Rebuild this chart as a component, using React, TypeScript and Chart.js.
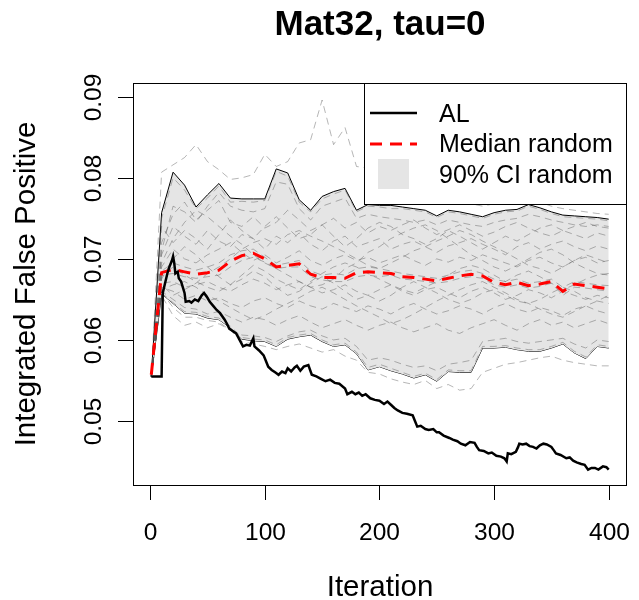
import React, { useEffect, useRef } from "react";
import { Chart, registerables } from "chart.js";

Chart.register(...registerables);

const TITLE = "Mat32, tau=0";
const X_LABEL = "Iteration";
const Y_LABEL = "Integrated False Positive";
const X_TICKS = [0, 100, 200, 300, 400];
const Y_TICKS = [0.05, 0.06, 0.07, 0.08, 0.09];
const Y_TICK_LABELS = ["0.05", "0.06", "0.07", "0.08", "0.09"];
const LEGEND_LABELS = ["AL", "Median random", "90% CI random"];

// Iterations at which the random runs / band / median are recorded
const GRID_ITER = [1, 10, 20, 30, 40, 50, 60, 70, 80, 90, 100, 110, 120, 130, 140, 150, 160, 170, 180, 190, 200, 210, 220, 230, 240, 250, 260, 270, 280, 290, 300, 310, 320, 330, 340, 350, 360, 370, 380, 390, 400];

const CI_UPPER = [0.0555, 0.0757, 0.0807, 0.0791, 0.0764, 0.0779, 0.0793, 0.0775, 0.0774, 0.0774, 0.0774, 0.0811, 0.0806, 0.0773, 0.0760, 0.0777, 0.0783, 0.0787, 0.0760, 0.0767, 0.0766, 0.0766, 0.0764, 0.0762, 0.0760, 0.0753, 0.0760, 0.0758, 0.0755, 0.0752, 0.0757, 0.0760, 0.0761, 0.0767, 0.0763, 0.0758, 0.0754, 0.0753, 0.0752, 0.0751, 0.0749];

const CI_LOWER = [0.0555, 0.0657, 0.0645, 0.0633, 0.0632, 0.0627, 0.0625, 0.0615, 0.0601, 0.0599, 0.0598, 0.0592, 0.0601, 0.0604, 0.0606, 0.0598, 0.0592, 0.0594, 0.0583, 0.0563, 0.0567, 0.0562, 0.0558, 0.0553, 0.0557, 0.0549, 0.0561, 0.0560, 0.0560, 0.0590, 0.0590, 0.0591, 0.0588, 0.0586, 0.0586, 0.0590, 0.0595, 0.0584, 0.0577, 0.0592, 0.0590];

const MEDIAN = [0.0557, 0.0683, 0.0687, 0.0684, 0.0681, 0.0683, 0.0686, 0.0697, 0.0704, 0.0707, 0.0700, 0.0690, 0.0692, 0.0694, 0.0681, 0.0677, 0.0677, 0.0676, 0.0683, 0.0684, 0.0683, 0.0682, 0.0678, 0.0677, 0.0675, 0.0673, 0.0676, 0.0679, 0.0681, 0.0679, 0.0671, 0.0668, 0.0671, 0.0667, 0.0669, 0.0672, 0.0660, 0.0669, 0.0667, 0.0665, 0.0663];

const AL_ITER = [1, 10, 11, 13, 15, 17, 19, 20, 21, 22, 24, 25, 27, 30, 31, 34, 36, 39, 42, 45, 47, 50, 52, 55, 58, 61, 65, 67, 69, 72, 75, 78, 81, 84, 87, 90, 91, 95, 99, 101, 103, 106, 109, 112, 115, 118, 120, 123, 126, 128, 131, 134, 138, 141, 145, 149, 153, 157, 161, 165, 170, 172, 176, 179, 182, 185, 188, 192, 196, 200, 204, 207, 210, 213, 216, 220, 224, 229, 231, 233, 236, 240, 243, 247, 250, 252, 256, 261, 264, 268, 271, 275, 279, 283, 285, 287, 291, 295, 298, 302, 306, 309, 311, 312, 315, 319, 321, 322, 325, 328, 331, 334, 337, 340, 343, 346, 350, 352, 354, 358, 363, 366, 369, 372, 376, 379, 382, 385, 388, 391, 395, 398, 400];

const AL_VALUE = [0.0555, 0.0555, 0.0658, 0.0670, 0.0682, 0.0691, 0.0698, 0.0703, 0.0695, 0.0682, 0.0684, 0.0676, 0.0672, 0.0658, 0.0647, 0.0648, 0.0646, 0.0650, 0.0648, 0.0655, 0.0658, 0.0652, 0.0647, 0.0642, 0.0637, 0.0633, 0.0625, 0.0620, 0.0614, 0.0611, 0.0608, 0.0600, 0.0592, 0.0594, 0.0593, 0.0602, 0.0592, 0.0587, 0.0581, 0.0574, 0.0567, 0.0563, 0.0560, 0.0557, 0.0561, 0.0559, 0.0565, 0.0561, 0.0566, 0.0568, 0.0562, 0.0567, 0.0569, 0.0557, 0.0555, 0.0552, 0.0549, 0.0551, 0.0547, 0.0546, 0.0540, 0.0533, 0.0536, 0.0533, 0.0535, 0.0531, 0.0533, 0.0528, 0.0526, 0.0525, 0.0521, 0.0524, 0.0520, 0.0516, 0.0513, 0.0510, 0.0509, 0.0507, 0.0500, 0.0493, 0.0494, 0.0490, 0.0489, 0.0490, 0.0486, 0.0486, 0.0482, 0.0479, 0.0477, 0.0475, 0.0472, 0.0470, 0.0474, 0.0473, 0.0468, 0.0464, 0.0463, 0.0460, 0.0461, 0.0457, 0.0456, 0.0454, 0.0450, 0.0460, 0.0459, 0.0462, 0.0468, 0.0472, 0.0471, 0.0472, 0.0469, 0.0468, 0.0466, 0.0470, 0.0472, 0.0471, 0.0468, 0.0464, 0.0460, 0.0458, 0.0454, 0.0455, 0.0451, 0.0449, 0.0447, 0.0446, 0.0440, 0.0442, 0.0442, 0.0440, 0.0444, 0.0443, 0.0440];

// Individual random runs (grey dashed)
const RUN_01 = [0.0555, 0.0807, 0.0816, 0.0825, 0.0841, 0.0820, 0.0810, 0.0798, 0.0800, 0.0804, 0.0829, 0.0814, 0.0820, 0.0843, 0.0847, 0.0896, 0.0841, 0.0862, 0.0814, 0.0812, 0.0805, 0.0800, 0.0790, 0.0785, 0.0780, 0.0775, 0.0770, 0.0772, 0.0768, 0.0765, 0.0768, 0.0770, 0.0772, 0.0775, 0.0770, 0.0765, 0.0762, 0.0760, 0.0758, 0.0756, 0.0755];
const RUN_02 = [0.0555, 0.0750, 0.0800, 0.0785, 0.0762, 0.0775, 0.0790, 0.0770, 0.0771, 0.0770, 0.0772, 0.0808, 0.0802, 0.0770, 0.0758, 0.0774, 0.0780, 0.0785, 0.0758, 0.0765, 0.0764, 0.0762, 0.0762, 0.0760, 0.0758, 0.0751, 0.0758, 0.0756, 0.0753, 0.0750, 0.0755, 0.0758, 0.0759, 0.0765, 0.0761, 0.0756, 0.0752, 0.0751, 0.0750, 0.0749, 0.0747];
const RUN_03 = [0.0555, 0.0720, 0.0755, 0.0770, 0.0748, 0.0760, 0.0772, 0.0745, 0.0740, 0.0752, 0.0738, 0.0745, 0.0760, 0.0748, 0.0735, 0.0742, 0.0750, 0.0738, 0.0745, 0.0732, 0.0740, 0.0735, 0.0742, 0.0748, 0.0738, 0.0730, 0.0736, 0.0742, 0.0735, 0.0728, 0.0733, 0.0740, 0.0745, 0.0738, 0.0732, 0.0728, 0.0735, 0.0730, 0.0725, 0.0732, 0.0728];
const RUN_04 = [0.0555, 0.0705, 0.0740, 0.0728, 0.0718, 0.0735, 0.0722, 0.0715, 0.0730, 0.0725, 0.0712, 0.0728, 0.0720, 0.0732, 0.0718, 0.0710, 0.0722, 0.0728, 0.0715, 0.0720, 0.0725, 0.0712, 0.0718, 0.0722, 0.0715, 0.0708, 0.0716, 0.0720, 0.0725, 0.0718, 0.0712, 0.0705, 0.0715, 0.0720, 0.0712, 0.0718, 0.0722, 0.0715, 0.0710, 0.0716, 0.0712];
const RUN_05 = [0.0555, 0.0690, 0.0712, 0.0700, 0.0695, 0.0705, 0.0712, 0.0720, 0.0708, 0.0698, 0.0705, 0.0695, 0.0702, 0.0710, 0.0698, 0.0692, 0.0700, 0.0705, 0.0698, 0.0702, 0.0695, 0.0700, 0.0705, 0.0698, 0.0692, 0.0700, 0.0696, 0.0702, 0.0698, 0.0705, 0.0700, 0.0695, 0.0690, 0.0698, 0.0702, 0.0695, 0.0690, 0.0698, 0.0702, 0.0695, 0.0698];
const RUN_06 = [0.0555, 0.0685, 0.0695, 0.0690, 0.0686, 0.0690, 0.0695, 0.0705, 0.0710, 0.0712, 0.0702, 0.0692, 0.0695, 0.0698, 0.0685, 0.0680, 0.0682, 0.0680, 0.0688, 0.0690, 0.0688, 0.0685, 0.0682, 0.0680, 0.0678, 0.0676, 0.0680, 0.0684, 0.0686, 0.0682, 0.0675, 0.0672, 0.0675, 0.0670, 0.0672, 0.0675, 0.0665, 0.0672, 0.0670, 0.0668, 0.0667];
const RUN_07 = [0.0555, 0.0680, 0.0682, 0.0678, 0.0676, 0.0678, 0.0680, 0.0690, 0.0698, 0.0702, 0.0696, 0.0688, 0.0690, 0.0690, 0.0678, 0.0674, 0.0672, 0.0672, 0.0678, 0.0680, 0.0678, 0.0680, 0.0675, 0.0674, 0.0672, 0.0670, 0.0672, 0.0676, 0.0678, 0.0676, 0.0668, 0.0665, 0.0668, 0.0664, 0.0666, 0.0670, 0.0655, 0.0665, 0.0664, 0.0662, 0.0660];
const RUN_08 = [0.0555, 0.0670, 0.0672, 0.0665, 0.0668, 0.0672, 0.0665, 0.0660, 0.0668, 0.0675, 0.0670, 0.0662, 0.0668, 0.0672, 0.0665, 0.0658, 0.0662, 0.0668, 0.0660, 0.0655, 0.0662, 0.0668, 0.0660, 0.0655, 0.0662, 0.0665, 0.0658, 0.0652, 0.0660, 0.0665, 0.0658, 0.0650, 0.0655, 0.0662, 0.0658, 0.0652, 0.0660, 0.0655, 0.0650, 0.0655, 0.0652];
const RUN_09 = [0.0555, 0.0665, 0.0660, 0.0650, 0.0655, 0.0648, 0.0652, 0.0645, 0.0640, 0.0648, 0.0652, 0.0645, 0.0640, 0.0648, 0.0642, 0.0638, 0.0645, 0.0640, 0.0635, 0.0642, 0.0638, 0.0632, 0.0640, 0.0645, 0.0638, 0.0632, 0.0636, 0.0642, 0.0638, 0.0632, 0.0640, 0.0645, 0.0638, 0.0634, 0.0640, 0.0636, 0.0630, 0.0638, 0.0642, 0.0636, 0.0632];
const RUN_10 = [0.0555, 0.0660, 0.0650, 0.0640, 0.0638, 0.0632, 0.0635, 0.0628, 0.0622, 0.0628, 0.0625, 0.0618, 0.0625, 0.0630, 0.0622, 0.0615, 0.0620, 0.0625, 0.0618, 0.0612, 0.0618, 0.0622, 0.0615, 0.0610, 0.0615, 0.0620, 0.0612, 0.0608, 0.0615, 0.0620, 0.0625, 0.0618, 0.0612, 0.0620, 0.0625, 0.0618, 0.0622, 0.0615, 0.0620, 0.0625, 0.0620];
const RUN_11 = [0.0555, 0.0658, 0.0646, 0.0635, 0.0634, 0.0629, 0.0627, 0.0617, 0.0603, 0.0601, 0.0600, 0.0594, 0.0603, 0.0606, 0.0608, 0.0600, 0.0594, 0.0596, 0.0585, 0.0566, 0.0570, 0.0565, 0.0560, 0.0555, 0.0559, 0.0551, 0.0563, 0.0562, 0.0562, 0.0592, 0.0592, 0.0593, 0.0590, 0.0588, 0.0588, 0.0592, 0.0597, 0.0586, 0.0579, 0.0594, 0.0592];
const RUN_12 = [0.0555, 0.0655, 0.0630, 0.0618, 0.0622, 0.0615, 0.0620, 0.0612, 0.0598, 0.0595, 0.0592, 0.0588, 0.0592, 0.0595, 0.0590, 0.0585, 0.0588, 0.0580, 0.0575, 0.0560, 0.0558, 0.0552, 0.0548, 0.0545, 0.0550, 0.0540, 0.0545, 0.0538, 0.0540, 0.0560, 0.0565, 0.0570, 0.0572, 0.0575, 0.0578, 0.0580, 0.0575, 0.0572, 0.0570, 0.0568, 0.0568];
const RUN_13 = [0.0555, 0.0740, 0.0720, 0.0735, 0.0725, 0.0712, 0.0730, 0.0748, 0.0735, 0.0725, 0.0740, 0.0752, 0.0738, 0.0725, 0.0730, 0.0742, 0.0728, 0.0715, 0.0725, 0.0738, 0.0745, 0.0740, 0.0730, 0.0725, 0.0718, 0.0725, 0.0735, 0.0728, 0.0720, 0.0712, 0.0720, 0.0728, 0.0722, 0.0730, 0.0738, 0.0742, 0.0735, 0.0740, 0.0745, 0.0740, 0.0738];
const RUN_14 = [0.0555, 0.0675, 0.0700, 0.0715, 0.0705, 0.0690, 0.0678, 0.0668, 0.0675, 0.0685, 0.0678, 0.0665, 0.0655, 0.0660, 0.0670, 0.0678, 0.0670, 0.0660, 0.0650, 0.0655, 0.0648, 0.0655, 0.0665, 0.0672, 0.0665, 0.0658, 0.0650, 0.0645, 0.0650, 0.0658, 0.0662, 0.0655, 0.0648, 0.0645, 0.0650, 0.0658, 0.0665, 0.0660, 0.0652, 0.0648, 0.0645];
const RUN_15 = [0.0555, 0.0668, 0.0655, 0.0662, 0.0670, 0.0682, 0.0690, 0.0700, 0.0712, 0.0720, 0.0725, 0.0718, 0.0730, 0.0735, 0.0728, 0.0722, 0.0715, 0.0708, 0.0700, 0.0692, 0.0688, 0.0695, 0.0702, 0.0710, 0.0715, 0.0722, 0.0728, 0.0735, 0.0730, 0.0722, 0.0715, 0.0708, 0.0700, 0.0692, 0.0688, 0.0682, 0.0690, 0.0698, 0.0705, 0.0700, 0.0695];
const RUN_16 = [0.0555, 0.0695, 0.0725, 0.0745, 0.0760, 0.0752, 0.0740, 0.0728, 0.0718, 0.0705, 0.0695, 0.0688, 0.0680, 0.0672, 0.0665, 0.0668, 0.0675, 0.0688, 0.0695, 0.0708, 0.0715, 0.0725, 0.0732, 0.0738, 0.0742, 0.0735, 0.0725, 0.0715, 0.0705, 0.0698, 0.0690, 0.0685, 0.0692, 0.0700, 0.0708, 0.0712, 0.0705, 0.0695, 0.0688, 0.0682, 0.0680];
const RUN_17 = [0.0555, 0.0662, 0.0668, 0.0672, 0.0665, 0.0655, 0.0648, 0.0640, 0.0632, 0.0625, 0.0630, 0.0638, 0.0645, 0.0652, 0.0660, 0.0665, 0.0658, 0.0650, 0.0642, 0.0635, 0.0628, 0.0620, 0.0625, 0.0632, 0.0640, 0.0648, 0.0655, 0.0662, 0.0668, 0.0672, 0.0665, 0.0658, 0.0650, 0.0645, 0.0638, 0.0632, 0.0628, 0.0635, 0.0642, 0.0648, 0.0655];
const RUN_18 = [0.0555, 0.0710, 0.0765, 0.0758, 0.0745, 0.0765, 0.0782, 0.0765, 0.0760, 0.0758, 0.0762, 0.0795, 0.0792, 0.0762, 0.0748, 0.0765, 0.0770, 0.0775, 0.0750, 0.0755, 0.0752, 0.0750, 0.0748, 0.0745, 0.0748, 0.0742, 0.0748, 0.0745, 0.0742, 0.0740, 0.0745, 0.0748, 0.0750, 0.0755, 0.0752, 0.0748, 0.0745, 0.0742, 0.0740, 0.0742, 0.0740];
const RUN_19 = [0.0555, 0.0659, 0.0640, 0.0628, 0.0628, 0.0624, 0.0622, 0.0612, 0.0606, 0.0605, 0.0603, 0.0598, 0.0605, 0.0610, 0.0612, 0.0605, 0.0600, 0.0602, 0.0592, 0.0575, 0.0578, 0.0575, 0.0570, 0.0566, 0.0568, 0.0562, 0.0570, 0.0572, 0.0575, 0.0598, 0.0600, 0.0602, 0.0598, 0.0596, 0.0598, 0.0600, 0.0602, 0.0595, 0.0590, 0.0600, 0.0598];
const RUN_20 = [0.0555, 0.0678, 0.0690, 0.0680, 0.0672, 0.0665, 0.0660, 0.0668, 0.0680, 0.0692, 0.0685, 0.0675, 0.0668, 0.0662, 0.0672, 0.0682, 0.0690, 0.0695, 0.0690, 0.0682, 0.0675, 0.0668, 0.0662, 0.0658, 0.0665, 0.0672, 0.0680, 0.0688, 0.0692, 0.0688, 0.0680, 0.0672, 0.0680, 0.0685, 0.0678, 0.0670, 0.0662, 0.0668, 0.0675, 0.0680, 0.0682];
const RANDOM_RUNS = [RUN_01, RUN_02, RUN_03, RUN_04, RUN_05, RUN_06, RUN_07, RUN_08, RUN_09, RUN_10, RUN_11, RUN_12, RUN_13, RUN_14, RUN_15, RUN_16, RUN_17, RUN_18, RUN_19, RUN_20];

const FONT = '"Liberation Sans", Arial, Helvetica, sans-serif';
const BAND_FILL = "#e5e5e5";
const RUN_COLOR = "rgba(80,80,80,0.42)";

const toPoints = (xs: number[], ys: number[]) => xs.map((x, i) => ({ x, y: ys[i] }));

const decorPlugin = {
  id: "decor",
  afterDraw(chart: any) {
    const ctx = chart.ctx as CanvasRenderingContext2D;
    const { left, right, top, bottom } = chart.chartArea;
    const xs = chart.scales.x;
    const ys = chart.scales.y;
    ctx.save();
    ctx.fillStyle = "#000";
    ctx.strokeStyle = "#000";
    ctx.lineWidth = 1;
    ctx.setLineDash([]);

    // plot box
    ctx.strokeRect(Math.round(left) + 0.5, Math.round(top) + 0.5, Math.round(right - left) - 1, Math.round(bottom - top));

    // x axis ticks
    ctx.font = `24.5px ${FONT}`;
    ctx.textAlign = "center";
    ctx.textBaseline = "alphabetic";
    X_TICKS.forEach((v) => {
      const px = Math.round(xs.getPixelForValue(v)) + 0.5;
      ctx.beginPath();
      ctx.moveTo(px, bottom);
      ctx.lineTo(px, bottom + 15);
      ctx.stroke();
      ctx.fillText(String(v), px, 540);
    });

    // y axis ticks
    Y_TICKS.forEach((v, i) => {
      const py = Math.round(ys.getPixelForValue(v)) + 0.5;
      ctx.beginPath();
      ctx.moveTo(left - 15, py);
      ctx.lineTo(left, py);
      ctx.stroke();
      ctx.save();
      ctx.translate(101, py);
      ctx.rotate(-Math.PI / 2);
      ctx.fillText(Y_TICK_LABELS[i], 0, 0);
      ctx.restore();
    });

    // axis titles
    ctx.font = `29.5px ${FONT}`;
    ctx.fillText(X_LABEL, (left + right) / 2, 596);
    ctx.save();
    ctx.translate(35, (top + bottom) / 2);
    ctx.rotate(-Math.PI / 2);
    ctx.fillText(Y_LABEL, 0, 0);
    ctx.restore();

    // title
    ctx.font = `bold 35px ${FONT}`;
    ctx.fillText(TITLE, (left + right) / 2, 35);

    // legend
    const lx0 = 364.5, ly0 = 83.5, lx1 = 626.5, ly1 = 204.5;
    ctx.fillStyle = "#fff";
    ctx.fillRect(lx0, ly0, lx1 - lx0, ly1 - ly0);
    ctx.strokeStyle = "#000";
    ctx.strokeRect(lx0, ly0, lx1 - lx0, ly1 - ly0);

    ctx.lineWidth = 2.5;
    ctx.beginPath();
    ctx.moveTo(370, 113);
    ctx.lineTo(417, 113);
    ctx.stroke();

    ctx.strokeStyle = "#ff0000";
    ctx.lineWidth = 3;
    ctx.setLineDash([12, 8]);
    ctx.beginPath();
    ctx.moveTo(370, 144);
    ctx.lineTo(417, 144);
    ctx.stroke();
    ctx.setLineDash([]);

    ctx.fillStyle = BAND_FILL;
    ctx.fillRect(378, 159, 31, 30);

    ctx.fillStyle = "#000";
    ctx.font = `25px ${FONT}`;
    ctx.textAlign = "left";
    ctx.fillText(LEGEND_LABELS[0], 439, 122);
    ctx.fillText(LEGEND_LABELS[1], 439, 152);
    ctx.fillText(LEGEND_LABELS[2], 439, 183);

    ctx.restore();
  },
};

export default function App() {
  const canvasRef = useRef<HTMLCanvasElement | null>(null);

  useEffect(() => {
    if (!canvasRef.current) return;
    const runSets = RANDOM_RUNS.map((run) => ({
      data: toPoints(GRID_ITER, run),
      borderColor: RUN_COLOR,
      borderWidth: 1,
      borderDash: [7, 5],
      pointRadius: 0,
      fill: false,
      order: 3,
    }));
    const chart = new Chart(canvasRef.current, {
      type: "line",
      data: {
        datasets: [
          {
            data: toPoints(GRID_ITER, CI_UPPER),
            borderColor: "#000",
            borderWidth: 1,
            pointRadius: 0,
            backgroundColor: BAND_FILL,
            fill: "+1",
            order: 4,
          },
          {
            data: toPoints(GRID_ITER, CI_LOWER),
            borderColor: "#000",
            borderWidth: 1,
            pointRadius: 0,
            fill: false,
            order: 4,
          },
          ...runSets,
          {
            data: toPoints(GRID_ITER, MEDIAN),
            borderColor: "#ff0000",
            borderWidth: 3,
            borderDash: [12, 8],
            pointRadius: 0,
            fill: false,
            order: 2,
          },
          {
            data: toPoints(AL_ITER, AL_VALUE),
            borderColor: "#000",
            borderWidth: 2.5,
            pointRadius: 0,
            fill: false,
            order: 1,
          },
        ] as any,
      },
      options: {
        responsive: false,
        animation: false,
        devicePixelRatio: 1,
        layout: { padding: { left: 133, right: 12, top: 83, bottom: 115 } },
        scales: {
          x: { type: "linear", min: -14.96, max: 415.96, display: false },
          y: { type: "linear", min: 0.0421, max: 0.0917, display: false },
        },
        plugins: {
          legend: { display: false },
          title: { display: false },
          tooltip: { enabled: false },
        },
        elements: { line: { tension: 0 } },
      },
      plugins: [decorPlugin],
    });
    return () => chart.destroy();
  }, []);

  return (
    <div style={{ position: "absolute", left: 0, top: 0, width: 639, height: 600, background: "#fff" }}>
      <canvas ref={canvasRef} width={639} height={600} />
    </div>
  );
}
